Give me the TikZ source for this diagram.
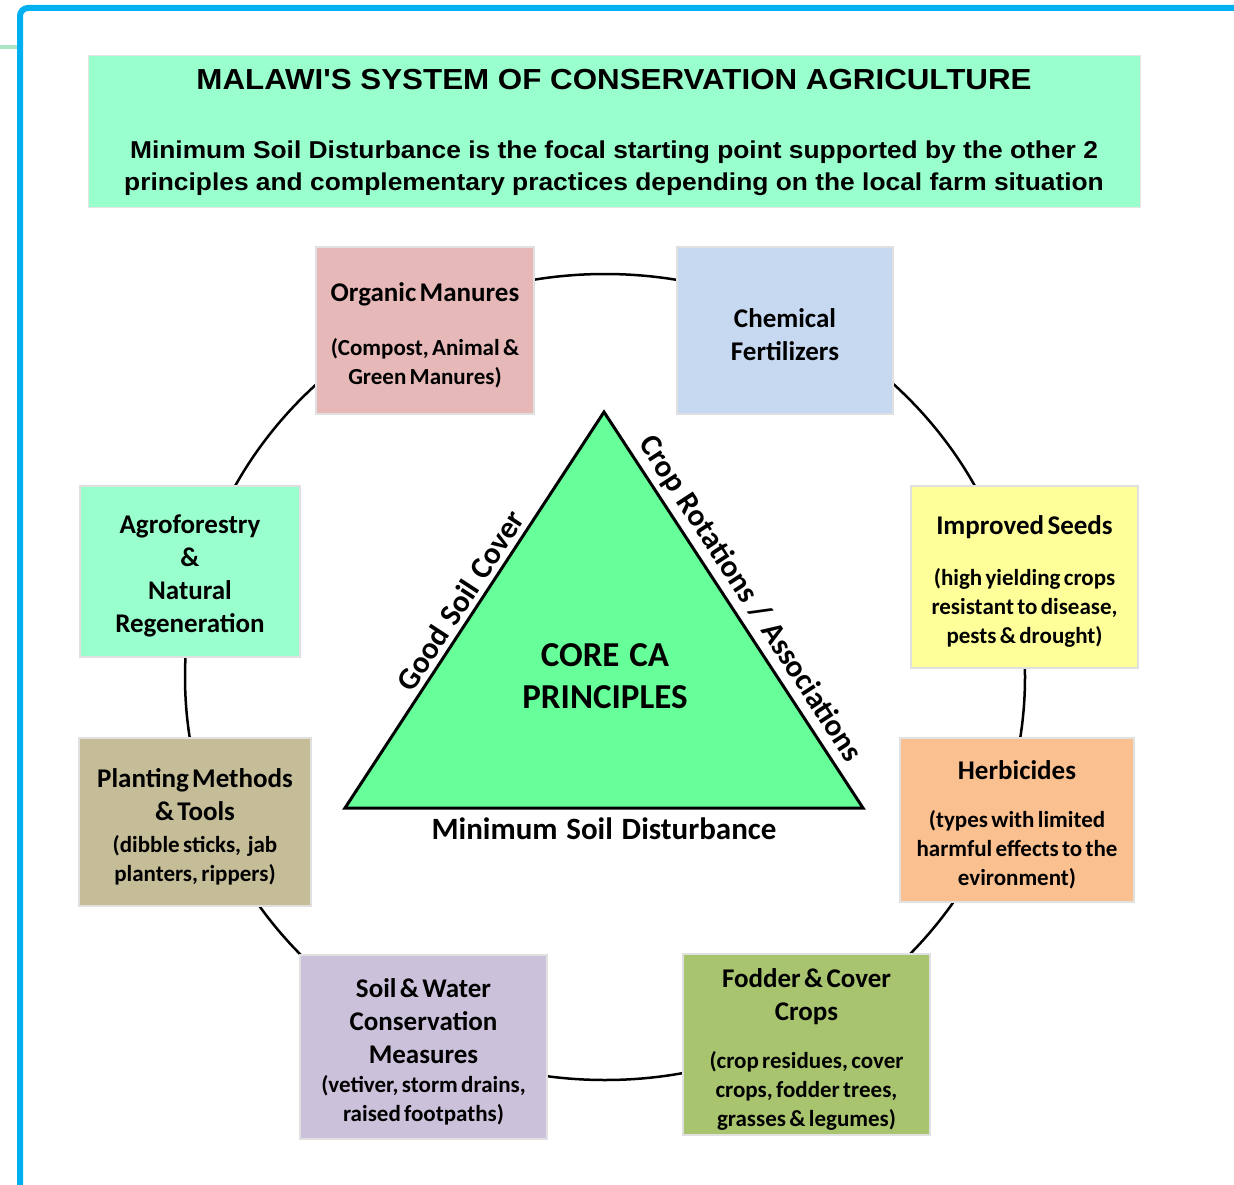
\documentclass[tikz,border=0pt]{standalone}
\usepackage{fontspec}
\setmainfont{Carlito}[WordSpace = 1.25]
\newfontfamily\headfont{Liberation Sans}[FakeStretch = 1.08]

\definecolor{frameblue}{HTML}{00B0F0}
\definecolor{tickgreen}{HTML}{A9E5C6}
\definecolor{mint}{HTML}{99FFCC}
\definecolor{rosebox}{HTML}{E6B9B8}
\definecolor{skybox}{HTML}{C6D9F1}
\definecolor{lemonbox}{HTML}{FFFF99}
\definecolor{peachbox}{HTML}{FAC090}
\definecolor{olivebox}{HTML}{A9C46F}
\definecolor{lilacbox}{HTML}{CCC1DA}
\definecolor{khakibox}{HTML}{C4BD97}
\definecolor{coregreen}{HTML}{66FF99}

\newcommand{\boxhead}[1]{{\fontsize{27}{33}\selectfont #1\par}}
\newcommand{\boxnote}[1]{{\fontsize{23}{29}\selectfont #1\par}}

\tikzset{
	practice/.style = {draw = black!12, line width = 1.5pt, inner sep = 0pt, align = center, font = \bfseries, text height = 28pt},
	sidelabel/.style = {font = \bfseries\fontsize{31}{36}\selectfont, inner sep = 0pt}
}

\begin{document}
\begin{tikzpicture}[x = 1pt, y = -1pt]

	\useasboundingbox (0, 0) rectangle (1234, 1185);

	% Page frame
	
	\draw [tickgreen, line width = 4pt] (-2, 47) -- (18, 47);
	\draw [frameblue, line width = 6pt, rounded corners = 8pt] (20, 1195) -- (20, 8) -- (1245, 8);

	% Heading banner
	
	\draw [fill = mint, draw = black!10, line width = 1pt] (88, 56) rectangle (1140, 208);
	
	\node [font = \headfont\bfseries\fontsize{29}{36}\selectfont] (title) at (614, 80) {MALAWI'S SYSTEM OF CONSERVATION AGRICULTURE};
	\node [font = \headfont\bfseries\fontsize{24.4}{32}\selectfont, align = center] (subtitle) at (614, 168) {Minimum Soil Disturbance is the focal starting point supported by the other 2\\principles and complementary practices depending on the local farm situation};

	% Ring joining the practices
	
	\draw [line width = 2.5pt] (605, 677) ellipse [x radius = 420, y radius = 403];

	% Complementary practices
	
	\node [practice, fill = rosebox, text width = 218pt, minimum height = 167pt] (organic) at (425, 330.5)
		{\boxhead{Organic Manures}\vspace{25pt}\boxnote{(Compost, Animal \&\\Green Manures)}};
	\node [practice, fill = skybox, text width = 216pt, minimum height = 167pt] (chemical) at (785, 330.5)
		{\boxhead{Chemical\\Fertilizers}};
	\node [practice, fill = lemonbox, text width = 227pt, minimum height = 182pt] (seeds) at (1024.5, 577)
		{\boxhead{Improved Seeds}\vspace{22pt}\boxnote{(high yielding crops\\resistant to disease,\\pests \& drought)}};
	\node [practice, fill = peachbox, text width = 234pt, minimum height = 164pt] (herbicides) at (1017, 820)
		{\boxhead{Herbicides}\vspace{19pt}\boxnote{(types with limited\\harmful effects to the\\evironment)}};
	\node [practice, fill = olivebox, text width = 247pt, minimum height = 181pt] (fodder) at (806.5, 1044.5)
		{\boxhead{Fodder \& Cover\\Crops}\vspace{19pt}\boxnote{(crop residues, cover\\crops, fodder trees,\\grasses \& legumes)}};
	\node [practice, fill = lilacbox, text width = 247pt, minimum height = 184pt] (soilwater) at (423.5, 1047)
		{\boxhead{Soil \& Water\\Conservation\\Measures}\boxnote{(vetiver, storm drains,\\raised footpaths)}};
	\node [practice, fill = khakibox, text width = 232pt, minimum height = 168pt] (planting) at (195, 822)
		{\boxhead{Planting Methods\\\& Tools}\vspace{3pt}\boxnote{(dibble sticks,~ jab\\planters, rippers)}};
	\node [practice, fill = mint, text width = 220pt, minimum height = 171pt] (agro) at (190, 571.5)
		{\boxhead{Agroforestry\\\&\\Natural\\Regeneration}};

	% Core triangle
	
	\coordinate (peak) at (604, 412);
	\coordinate (baseW) at (345, 808);
	\coordinate (baseE) at (863, 808);
	
	\draw [fill = coregreen, line width = 3pt] (peak) -- (baseE) -- (baseW) -- cycle;
	
	\node [font = \bfseries\fontsize{35}{42}\selectfont, align = center] (core) at (605, 676) {CORE CA\\PRINCIPLES};
	
	\path (baseW) -- node [sidelabel, sloped, above = 6pt] (cover) {Good Soil Cover} (peak);
	\path (peak) -- node [sidelabel, sloped, above = 6pt] (rotation) {Crop Rotations / Associations} (baseE);
	\path (baseW) -- node [sidelabel, below = 10pt] (disturb) {Minimum Soil Disturbance} (baseE);

\end{tikzpicture}
\end{document}
